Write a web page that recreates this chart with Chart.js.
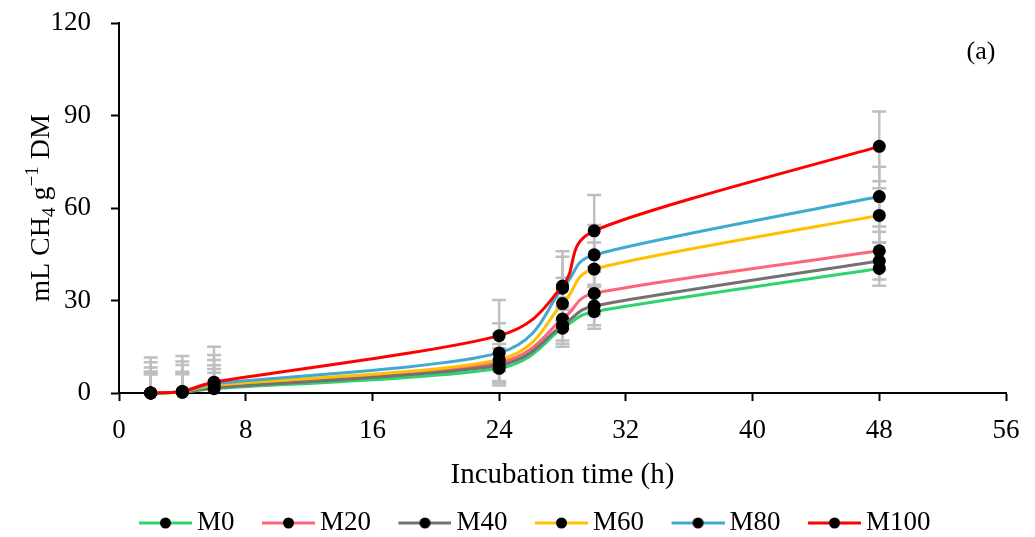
<!DOCTYPE html>
<html>
<head>
<meta charset="utf-8">
<script src="https://cdn.jsdelivr.net/npm/chart.js@4"></script>
<style>
  html, body { margin: 0; padding: 0; background: #fff; }
  #wrap { width: 1035px; height: 537px; position: relative; }
</style>
</head>
<body>
<div id="wrap"><canvas id="chart"></canvas></div>
<script>
// incubation times (h)
const times = [2, 4, 6, 24, 28, 30, 48];
const labels = ["M0", "M20", "M40", "M60", "M80", "M100"];

// mean CH4 (mL g-1 DM)
const m0   = [0, 0.3, 1.4, 8.0, 21.0, 26.4, 40.4];
const m20  = [0, 0.3, 2.0, 9.9, 24.0, 32.3, 46.1];
const m40  = [0, 0.3, 1.7, 9.0, 22.0, 28.2, 42.8];
const m60  = [0, 0.4, 2.5, 10.8, 29.0, 40.2, 57.6];
const m80  = [0, 0.4, 3.0, 13.0, 34.0, 44.8, 63.7];
const m100 = [0, 0.5, 3.5, 18.6, 34.7, 52.6, 80.0];

// standard deviations (error bars)
const sd0   = [6.0, 5.8, 5.2, 4.8, 6.0, 5.6, 5.6];
const sd20  = [7.0, 6.6, 7.0, 6.0, 7.0, 7.0, 6.2];
const sd40  = [6.5, 6.1, 6.1, 5.5, 6.0, 6.2, 6.0];
const sd60  = [8.3, 8.7, 8.2, 8.4, 8.4, 8.6, 8.8];
const sd80  = [10.0, 9.8, 9.3, 9.6, 10.2, 9.7, 9.7];
const sd100 = [11.5, 11.5, 11.5, 11.6, 11.3, 11.6, 11.3];

const colors = ["#2fd36d", "#ff6479", "#767171", "#ffc000", "#3fa9d0", "#ff0000"];
const means = [m0, m20, m40, m60, m80, m100];
const sds = [sd0, sd20, sd40, sd60, sd80, sd100];

const FONT = "'Liberation Serif', 'Times New Roman', serif";

// legend swatch: coloured line with a black dot, transparent space on the left
const SW_W = 87, BOX_W = 70;
function swatch(color) {
    const c = document.createElement("canvas");
    c.width = SW_W; c.height = 14;
    const g = c.getContext("2d");
    g.strokeStyle = color; g.lineWidth = 3;
    g.beginPath(); g.moveTo(SW_W - 53, 7); g.lineTo(SW_W, 7); g.stroke();
    g.fillStyle = "#000";
    g.beginPath(); g.arc(SW_W - 26.5, 7, 5.5, 0, Math.PI * 2); g.fill();
    return c;
}
const swatches = colors.map(swatch);

// spreadsheet-style smoothing: bezier handles 1/6 of neighbour chord, capped at half the segment
const smoothLines = {
    id: "smoothLines",
    beforeDatasetsDraw(chart) {
        chart.getSortedVisibleDatasetMetas().forEach(meta => {
            const pts = meta.data, n = pts.length;
            for (let i = 0; i < n - 1; i++) {
                const p0 = pts[Math.max(i - 1, 0)], p1 = pts[i], p2 = pts[i + 1], p3 = pts[Math.min(i + 2, n - 1)];
                const d12 = Math.hypot(p2.x - p1.x, p2.y - p1.y);
                const d02 = Math.hypot(p2.x - p0.x, p2.y - p0.y);
                const d13 = Math.hypot(p3.x - p1.x, p3.y - p1.y);
                let f1 = 1 / 6, f2 = 1 / 6;
                if (d02 * f1 > d12 / 2) f1 = d12 / (2 * d02);
                if (d13 * f2 > d12 / 2) f2 = d12 / (2 * d13);
                p1.cp2x = p1.x + f1 * (p2.x - p0.x);
                p1.cp2y = p1.y + f1 * (p2.y - p0.y);
                p2.cp1x = p2.x - f2 * (p3.x - p1.x);
                p2.cp1y = p2.y - f2 * (p3.y - p1.y);
            }
            pts[0].cp1x = pts[0].x; pts[0].cp1y = pts[0].y;
            pts[n - 1].cp2x = pts[n - 1].x; pts[n - 1].cp2y = pts[n - 1].y;
            meta.dataset._pointsUpdated = true;
        });
    }
};

// gray error bars behind the lines
const errorBars = {
    id: "errorBars",
    beforeDatasetsDraw(chart) {
        const ctx = chart.ctx, xs = chart.scales.x, ys = chart.scales.y, a = chart.chartArea;
        ctx.save();
        ctx.beginPath(); ctx.rect(a.left, a.top - 10, a.right - a.left, a.bottom - a.top + 10); ctx.clip();
        ctx.strokeStyle = "#bfbfbf"; ctx.lineWidth = 2.5;
        chart.data.datasets.forEach(ds => {
            ds.data.forEach((p, j) => {
                const e = ds.sd[j];
                const x = xs.getPixelForValue(p.x);
                const yt = ys.getPixelForValue(p.y + e);
                const yb = ys.getPixelForValue(p.y - e);
                ctx.beginPath();
                ctx.moveTo(x, yt); ctx.lineTo(x, yb);
                ctx.moveTo(x - 7, yt); ctx.lineTo(x + 7, yt);
                ctx.moveTo(x - 7, yb); ctx.lineTo(x + 7, yb);
                ctx.stroke();
            });
        });
        ctx.restore();
    }
};

// y title with sub/superscript, panel tag
const extraText = {
    id: "extraText",
    afterDraw(chart) {
        const ctx = chart.ctx, a = chart.chartArea;
        const big = "28px " + FONT, small = "19px " + FONT;
        const parts = [
            { t: "mL CH", f: big, dy: 0 },
            { t: "4", f: small, dy: 6 },
            { t: " g", f: big, dy: 0 },
            { t: "\u22121", f: small, dy: -11 },
            { t: " DM", f: big, dy: 0 }
        ];
        ctx.save();
        let total = 0;
        parts.forEach(p => { ctx.font = p.f; p.w = ctx.measureText(p.t).width; total += p.w; });
        ctx.translate(40, (a.top + a.bottom) / 2);
        ctx.rotate(-Math.PI / 2);
        ctx.fillStyle = "#000";
        ctx.textBaseline = "alphabetic";
        let x = -total / 2;
        parts.forEach(p => { ctx.font = p.f; ctx.fillText(p.t, x, 9 + p.dy); x += p.w; });
        ctx.restore();

        ctx.save();
        ctx.font = "26px " + FONT;
        ctx.fillStyle = "#000";
        ctx.textAlign = "center"; ctx.textBaseline = "middle";
        ctx.fillText("(a)", 981, 52);
        ctx.restore();
    }
};

const datasets = labels.map((name, i) => ({
    label: name,
    data: times.map((t, j) => ({ x: t, y: means[i][j] })),
    sd: sds[i],
    borderColor: colors[i],
    backgroundColor: colors[i],
    borderWidth: 3,
    tension: 0.4,
    pointRadius: 6.5,
    pointBackgroundColor: "#000",
    pointBorderColor: "#000",
    pointBorderWidth: 0,
    clip: false,
    order: 5 - i
}));

new Chart(document.getElementById("chart"), {
    type: "line",
    data: { datasets },
    plugins: [smoothLines, errorBars, extraText],
    options: {
        responsive: true,
        maintainAspectRatio: false,
        animation: false,
        layout: { padding: { top: 23, right: 29, left: 38, bottom: -9.5 } },
        plugins: {
            tooltip: { enabled: false },
            legend: {
                position: "bottom",
                labels: {
                    usePointStyle: true,
                    pointStyleWidth: BOX_W,
                    padding: 2,
                    color: "#000",
                    font: { family: FONT, size: 27 },
                    sort: (a, b) => a.datasetIndex - b.datasetIndex,
                    generateLabels(chart) {
                        const items = Chart.defaults.plugins.legend.labels.generateLabels(chart);
                        items.forEach(it => { it.pointStyle = swatches[it.datasetIndex]; });
                        return items;
                    }
                }
            }
        },
        scales: {
            x: {
                type: "linear",
                min: 0, max: 56,
                ticks: { stepSize: 8, color: "#000", font: { family: FONT, size: 27 }, padding: 14 },
                grid: { drawOnChartArea: false, drawTicks: true, tickLength: 8, tickColor: "#000", tickWidth: 2 },
                border: { color: "#000", width: 2 },
                title: {
                    display: true, text: "Incubation time (h)", color: "#000",
                    font: { family: FONT, size: 29 }, padding: { top: 0, bottom: 15 }
                },
                afterFit(scale) { scale.height = 114.5; }
            },
            y: {
                min: 0, max: 120,
                ticks: { stepSize: 30, color: "#000", font: { family: FONT, size: 27 }, padding: 20 },
                grid: { drawOnChartArea: false, drawTicks: true, tickLength: 8, tickColor: "#000", tickWidth: 2 },
                border: { color: "#000", width: 2 },
                afterFit(scale) {
                    scale.width = 81;
                    scale.paddingTop = 0;
                    scale.paddingBottom = 0;
                }
            }
        }
    }
});
</script>
</body>
</html>
